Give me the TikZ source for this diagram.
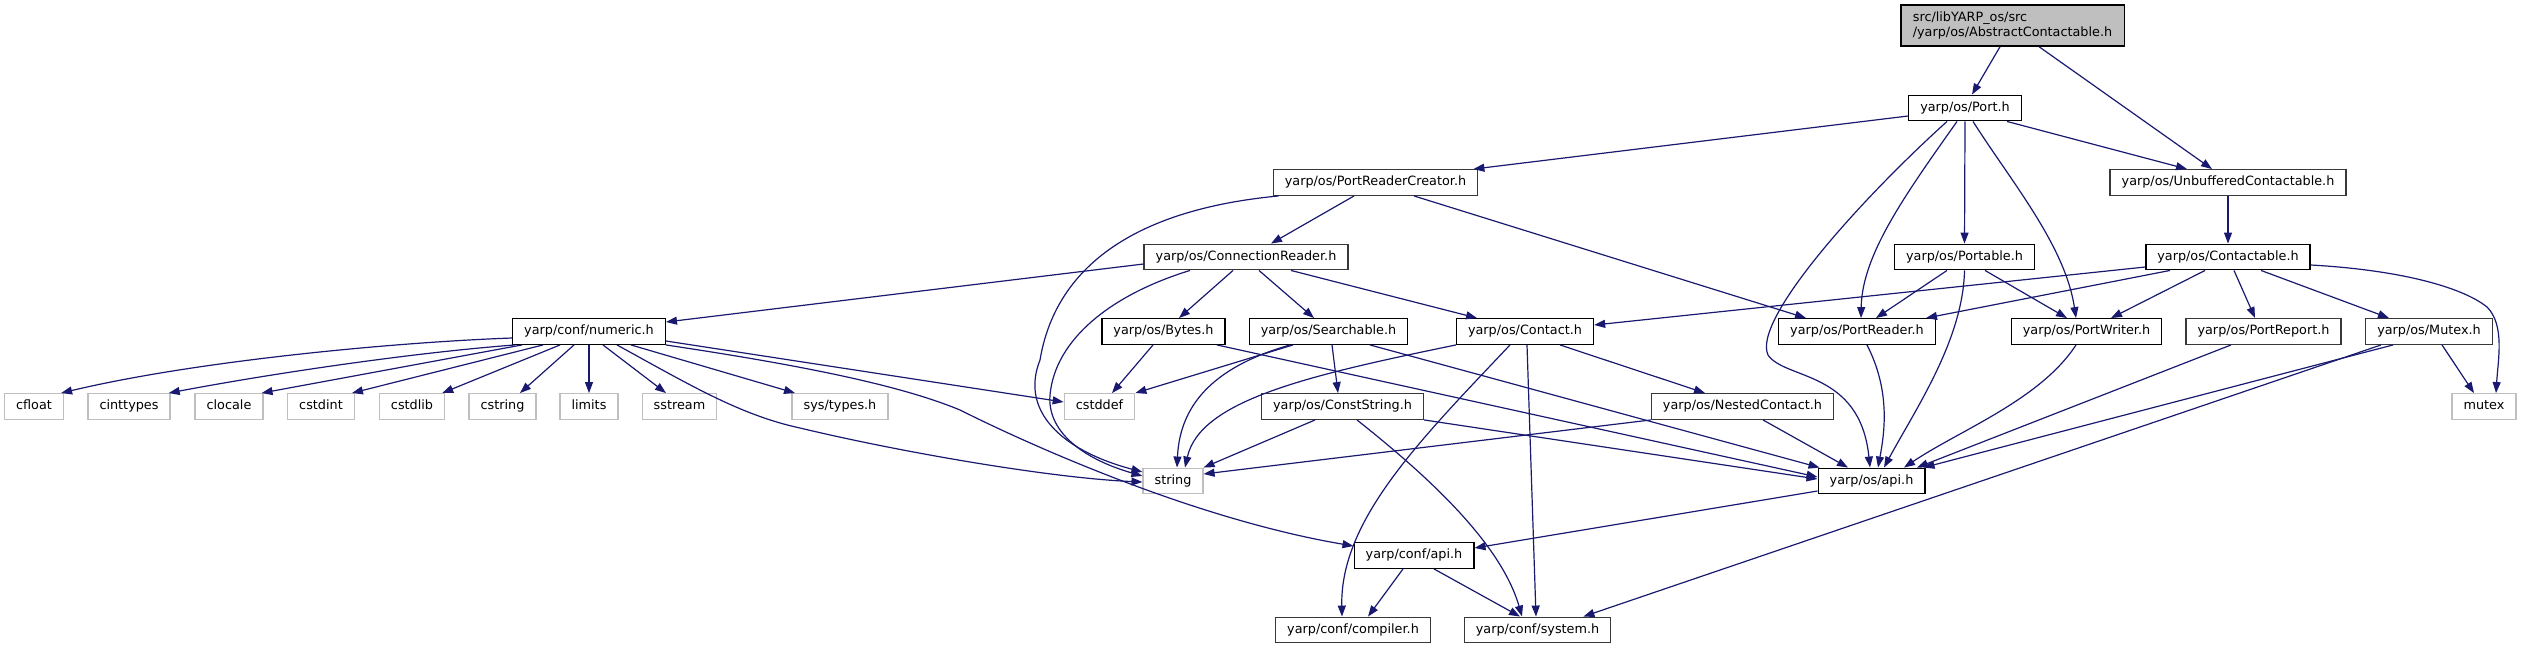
\documentclass[tikz,border=0pt]{standalone}
\usepackage{fontspec}
\setmainfont{DejaVu Sans}
\usetikzlibrary{arrows.meta}
\definecolor{cEdge}{RGB}{25,25,112}
\definecolor{cExt} {RGB}{191,191,191}
\definecolor{cRoot}{RGB}{191,191,191}
\definecolor{cDoc} {RGB}{56,56,56}
\tikzset{
  >={Triangle[length=11pt,width=8pt]},
  box/.style={draw,fill=white,line width=1.4pt,minimum height=25.5pt,
              inner xsep=11.5pt,inner ysep=0pt,font=\fontsize{12.8}{15}\selectfont},
  file/.style={box,text height=9.3pt,text depth=3pt},
  fileg/.style={file,draw=cDoc},% file box with grey frame
  ext/.style={file,draw=cExt},% system header
  root/.style={box,fill=cRoot,align=left,minimum height=41pt,inner xsep=12pt},
  dep/.style={->,cEdge,line width=1.2pt},
}

\begin{document}
\begin{tikzpicture}[x=1pt,y=-1pt]
  \useasboundingbox (0,0) rectangle (2521,649);
  % rank 0..3
  \node[root]  (top)  at (2012.5,25.5) {src/libYARP\_os/src\\/yarp/os/AbstractContactable.h};
  \node[file]  (port) at (1965,108)    {yarp/os/Port.h};
  \node[fileg] (prc)  at (1375.5,182.5){yarp/os/PortReaderCreator.h};
  \node[fileg] (unbuf)at (2228,182.5)  {yarp/os/UnbufferedContactable.h};
  \node[fileg] (cread)at (1246,257)    {yarp/os/ConnectionReader.h};
  \node[file]  (ptbl) at (1964.5,257)  {yarp/os/Portable.h};
  \node[file]  (ctbl) at (2228,257)    {yarp/os/Contactable.h};
  % rank 4
  \node[file]  (num)  at (589,331.5)   {yarp/conf/numeric.h};
  \node[file]  (byt)  at (1163.5,331.5){yarp/os/Bytes.h};
  \node[file]  (srch) at (1328.5,331.5){yarp/os/Searchable.h};
  \node[file]  (cont) at (1525,331.5)  {yarp/os/Contact.h};
  \node[file]  (prd)  at (1857,331.5)  {yarp/os/PortReader.h};
  \node[file]  (pwr)  at (2086.5,331.5){yarp/os/PortWriter.h};
  \node[fileg] (prep) at (2263.5,331.5){yarp/os/PortReport.h};
  \node[fileg] (mtxh) at (2429,331.5)  {yarp/os/Mutex.h};
  % rank 5
  \node[ext]   (cfloat)   at (34,406.5)    {cfloat};
  \node[ext]   (cinttypes)at (129,406.5)   {cinttypes};
  \node[ext]   (clocale)  at (229,406.5)   {clocale};
  \node[ext]   (cstdint)  at (321,406.5)   {cstdint};
  \node[ext]   (cstdlib)  at (412,406.5)   {cstdlib};
  \node[ext]   (cstring)  at (502.5,406.5) {cstring};
  \node[ext]   (limits)   at (589,406.5)   {limits};
  \node[ext]   (sstream)  at (679.5,406.5) {sstream};
  \node[ext]   (systypes) at (840,406.5)   {sys/types.h};
  \node[ext]   (cstddef)  at (1099.5,406.5){cstddef};
  \node[fileg] (cstr)     at (1342.5,406.5){yarp/os/ConstString.h};
  \node[fileg] (nest)     at (1742.5,406.5){yarp/os/NestedContact.h};
  \node[ext]   (mutex)    at (2484,406.5)  {mutex};
  % rank 6..8
  \node[ext]   (str)  at (1173,481)    {string};
  \node[file]  (osapi)at (1871.5,481)  {yarp/os/api.h};
  \node[file]  (capi) at (1414,555.5)  {yarp/conf/api.h};
  \node[fileg] (comp) at (1353,630)    {yarp/conf/compiler.h};
  \node[fileg] (sys)  at (1537.5,630)  {yarp/conf/system.h};

  % edges from the top part
  \draw[dep] ([xshift=-12.5pt]top.south) -- ([xshift=7pt]port.north);
  \draw[dep] ([xshift=26.5pt]top.south) -- ([xshift=-16pt]unbuf.north);
  \draw[dep] ([yshift=-8pt]port.west) -- ([xshift=-5pt]prc.north east);
  \draw[dep] ([xshift=42pt]port.south) -- ([xshift=-41pt]unbuf.north);
  \draw[dep] (port.south) -- (ptbl.north);
  \draw[dep] ([xshift=8pt]port.south) .. controls (2010,180) and (2065,245) .. ([xshift=-10.5pt]pwr.north);
  \draw[dep] ([xshift=-8pt]port.south) .. controls (1905,195) and (1862,255) .. ([xshift=4pt]prd.north);
  \draw[dep] ([xshift=-18pt]port.south) .. controls (1860,200) and (1752,320) .. (1768,355)
             .. controls (1785,380) and (1860,370) .. ([xshift=-1.5pt]osapi.north);
  \draw[dep] ([xshift=-21.5pt]prc.south) -- ([xshift=25pt]cread.north);
  \draw[dep] ([xshift=6pt]prc.south west) .. controls (1130,210) and (1055,270) .. (1040,360)
             .. controls (1020,410) and (1060,450) .. ([yshift=9pt]str.west);
  \draw[dep] ([xshift=38.5pt]prc.south) -- ([xshift=-51pt]prd.north);
  \draw[dep] (unbuf) -- (ctbl);
  % ConnectionReader.h
  \draw[dep] ([yshift=-7pt]cread.west) -- ([yshift=9.5pt]num.east);
  \draw[dep] ([xshift=-56pt]cread.south) .. controls (1110,295) and (1055,340) .. (1050,395)
             .. controls (1047,430) and (1080,458) .. ([yshift=5pt]str.west);
  \draw[dep] ([xshift=-13pt]cread.south) -- ([xshift=15.5pt]byt.north);
  \draw[dep] ([xshift=13pt]cread.south) -- ([xshift=-14.5pt]srch.north);
  \draw[dep] ([xshift=45pt]cread.south) -- ([xshift=-48pt]cont.north);
  % Portable.h and Contactable.h
  \draw[dep] ([xshift=-17.5pt]ptbl.south) -- ([xshift=19pt]prd.north);
  \draw[dep] ([xshift=20.5pt]ptbl.south) -- ([xshift=-19.5pt]pwr.north);
  \draw[dep] (ptbl.south) .. controls (1963,340) and (1915,410) .. ([xshift=12.5pt]osapi.north);
  \draw[dep] ([yshift=-10pt]ctbl.west) -- ([yshift=6.5pt]cont.east);
  \draw[dep] ([xshift=-58pt]ctbl.south) -- ([xshift=69pt]prd.north);
  \draw[dep] ([xshift=-23pt]ctbl.south) -- ([xshift=24.5pt]pwr.north);
  \draw[dep] ([xshift=6pt]ctbl.south) -- ([xshift=-8.5pt]prep.north);
  \draw[dep] ([xshift=33pt]ctbl.south) -- ([xshift=-40pt]mtxh.north);
  \draw[dep] ([yshift=-8pt]ctbl.east) .. controls (2400,270) and (2462,287) .. (2487,307)
             .. controls (2505,325) and (2498,360) .. ([xshift=12pt]mutex.north);
  % numeric.h
  \draw[dep] ([yshift=-6.5pt]num.west) .. controls (400,342) and (200,360) .. ([xshift=-3pt]cfloat.north east);
  \draw[dep] ([xshift=-74pt]num.south) .. controls (420,352) and (280,372) .. ([xshift=-2pt]cinttypes.north east);
  \draw[dep] ([xshift=-67pt]num.south) -- ([xshift=-2pt]clocale.north east);
  \draw[dep] ([xshift=-46pt]num.south) -- ([xshift=-3pt]cstdint.north east);
  \draw[dep] ([xshift=-29pt]num.south) -- ([xshift=-3pt]cstdlib.north east);
  \draw[dep] ([xshift=-15pt]num.south) -- ([xshift=17.5pt]cstring.north);
  \draw[dep] (num.south) -- (limits.north);
  \draw[dep] ([xshift=14pt]num.south) -- ([xshift=-13.5pt]sstream.north);
  \draw[dep] ([xshift=42pt]num.south) -- ([xshift=-45pt]systypes.north);
  \draw[dep] ([xshift=28pt]num.south) .. controls (690,385) and (740,415) .. (800,428)
             .. controls (900,452) and (1050,478) .. ([yshift=-1pt]str.west);
  \draw[dep] ([yshift=-9.5pt]num.east) -- ([yshift=4.5pt]cstddef.west);
  \draw[dep] (num.south east) .. controls (800,365) and (900,385) .. (960,410)
             .. controls (1040,450) and (1200,520) .. ([yshift=9.5pt]capi.west);
  % Bytes.h, Searchable.h, ConstString.h
  \draw[dep] ([xshift=-10.5pt]byt.south) -- ([xshift=12.5pt]cstddef.north);
  \draw[dep] ([xshift=53.5pt]byt.south) -- ([yshift=4pt]osapi.west);
  \draw[dep] ([xshift=-35.5pt]srch.south) -- (cstddef.north east);
  \draw[dep] ([xshift=-38.5pt]srch.south) .. controls (1220,365) and (1180,400) .. ([xshift=4pt]str.north);
  \draw[dep] ([xshift=3.5pt]srch.south) -- ([xshift=-4.5pt]cstr.north);
  \draw[dep] ([xshift=41.5pt]srch.south) -- ([xshift=2pt]osapi.north west);
  \draw[dep] ([xshift=-27.5pt]cstr.south) -- (str.north east);
  \draw[dep] (cstr.south east) -- ([yshift=2pt]osapi.west);
  \draw[dep] ([xshift=14.5pt]cstr.south) .. controls (1420,470) and (1500,540) .. ([xshift=-15.5pt]sys.north);
  % Contact.h, NestedContact.h
  \draw[dep] (cont.south west) .. controls (1310,375) and (1200,400) .. ([xshift=12pt]str.north);
  \draw[dep] ([xshift=-15pt]cont.south) .. controls (1420,440) and (1340,520) .. ([xshift=-11pt]comp.north);
  \draw[dep] ([xshift=2pt]cont.south) -- ([xshift=-1.5pt]sys.north);
  \draw[dep] ([xshift=35pt]cont.south) -- ([xshift=-37.5pt]nest.north);
  \draw[dep] (nest.south west) -- ([yshift=7pt]str.east);
  \draw[dep] ([xshift=20.5pt]nest.south) -- ([xshift=-23.5pt]osapi.north);
  % PortReader.h, PortWriter.h, PortReport.h, Mutex.h
  \draw[dep] ([xshift=10pt]prd.south) .. controls (1890,390) and (1885,430) .. ([xshift=6.5pt]osapi.north);
  \draw[dep] ([xshift=-10.5pt]pwr.south) .. controls (2040,400) and (1960,430) .. ([xshift=32.5pt]osapi.north);
  \draw[dep] ([xshift=-32.5pt]prep.south) -- ([xshift=45.5pt]osapi.north);
  \draw[dep] ([xshift=-36pt]mtxh.south) -- ([xshift=-2pt]osapi.north east);
  \draw[dep] ([xshift=-48pt]mtxh.south) -- ([xshift=-28pt]sys.north east);
  \draw[dep] ([xshift=13pt]mtxh.south) -- ([xshift=-10pt]mutex.north);
  % api headers
  \draw[dep] ([yshift=-10pt]osapi.west) -- ([yshift=7.5pt]capi.east);
  \draw[dep] ([xshift=-11pt]capi.south) -- ([xshift=15pt]comp.north);
  \draw[dep] ([xshift=20pt]capi.south) -- ([xshift=-17.5pt]sys.north);
\end{tikzpicture}
\end{document}
